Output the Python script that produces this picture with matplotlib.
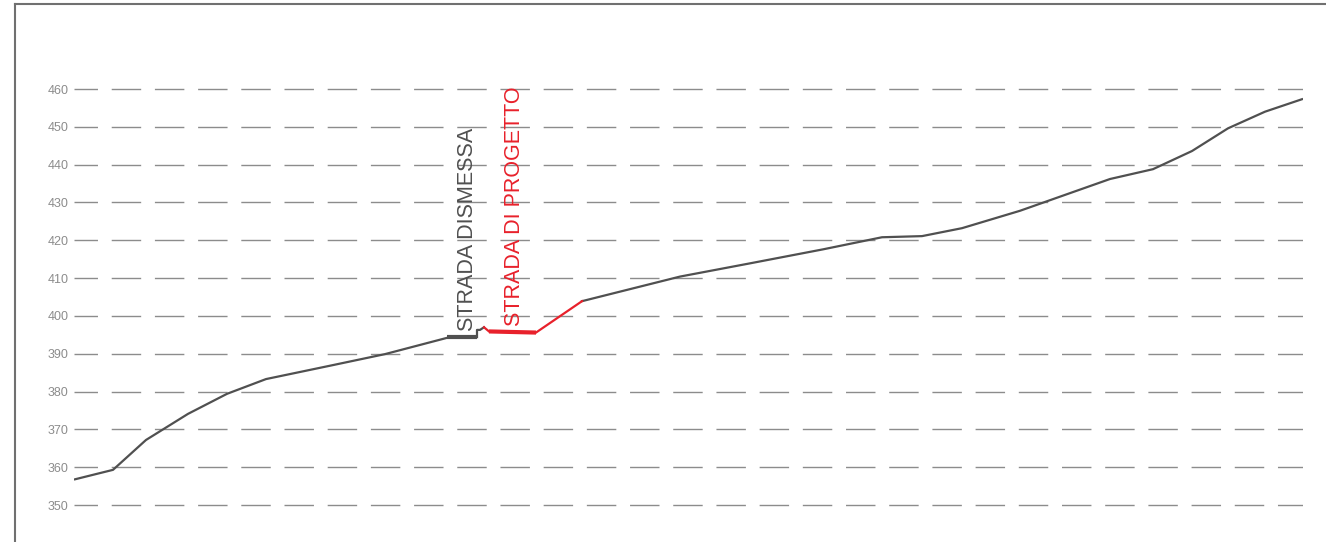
import matplotlib.pyplot as plt
from matplotlib.lines import Line2D

plt.rcParams['font.family'] = ['Liberation Sans', 'DejaVu Sans']

# progressive distance / elevation of the ground profile
dist_a = [0, 38, 71, 113, 152, 191, 258, 310, 372]
elev_a = [356.8, 359.3, 367.2, 374.1, 379.4, 383.3, 387.0, 389.9, 394.2]
dist_b = [507, 605, 675, 748, 807, 847, 887, 945, 1035, 1078, 1117, 1153, 1190, 1227]
elev_b = [403.9, 410.4, 413.9, 417.6, 420.8, 421.1, 423.2, 427.8, 436.2, 438.8, 443.6, 449.6, 454.0, 457.3]

# disused road
dism_dist = [372, 402]
dism_elev = [394.4, 394.4]
step_dist = [402, 402, 405, 409]
step_elev = [394.4, 396.3, 396.3, 397.0]

# design road
prog_dist = [409, 414, 461, 507]
prog_elev = [397.0, 395.9, 395.6, 403.9]

yticks = [350, 360, 370, 380, 390, 400, 410, 420, 430, 440, 450, 460]

gray = '#505050'
red = '#e8212b'

fig = plt.figure(figsize=(13.26, 5.42), dpi=100)
ax = fig.add_axes([74 / 1326, 0, 1229 / 1326, 1])

px = 3.782  # pixels per metre
ax.set_xlim(-1, 1228)
ax.set_ylim(460 - (542 - 89) / px, 460 + 89 / px)

for v in yticks:
    ax.axhline(v, color='#8c8c8c', lw=1.0, ls=(4.3, (21.2, 9.9)), zorder=1)

ax.plot(dist_a, elev_a, color=gray, lw=1.6, zorder=3)
ax.plot(dist_b, elev_b, color=gray, lw=1.6, zorder=3)
ax.plot(dism_dist, dism_elev, color=gray, lw=3.0, solid_capstyle='butt', zorder=3)
ax.plot(step_dist, step_elev, color=gray, lw=1.6, zorder=3)
ax.plot(prog_dist[:2], prog_elev[:2], color=red, lw=1.6, zorder=3)
ax.plot(prog_dist[1:3], prog_elev[1:3], color=red, lw=3.0, solid_capstyle='butt', zorder=3)
ax.plot(prog_dist[2:], prog_elev[2:], color=red, lw=1.6, zorder=3)

ax.text(382, 396.0, 'STRADA DISMESSA', rotation=90, ha='left', va='bottom',
        color=gray, fontsize=15.5)
ax.text(429, 397.3, 'STRADA DI PROGETTO', rotation=90, ha='left', va='bottom',
        color=red, fontsize=15.5)

ax.set_yticks(yticks)
ax.set_xticks([])
ax.tick_params(axis='y', length=0, pad=4, labelsize=9, labelcolor='#8c8c8c')
for s in ax.spines.values():
    s.set_visible(False)

# outer frame (left and top edges)
fig.add_artist(Line2D([15 / 1326, 15 / 1326], [0, 1 - 4 / 542], color='#707070', lw=1.5,
                      transform=fig.transFigure))
fig.add_artist(Line2D([15 / 1326, 1], [1 - 4 / 542, 1 - 4 / 542], color='#707070', lw=1.5,
                      transform=fig.transFigure))

fig.savefig('out.png', dpi=100)
